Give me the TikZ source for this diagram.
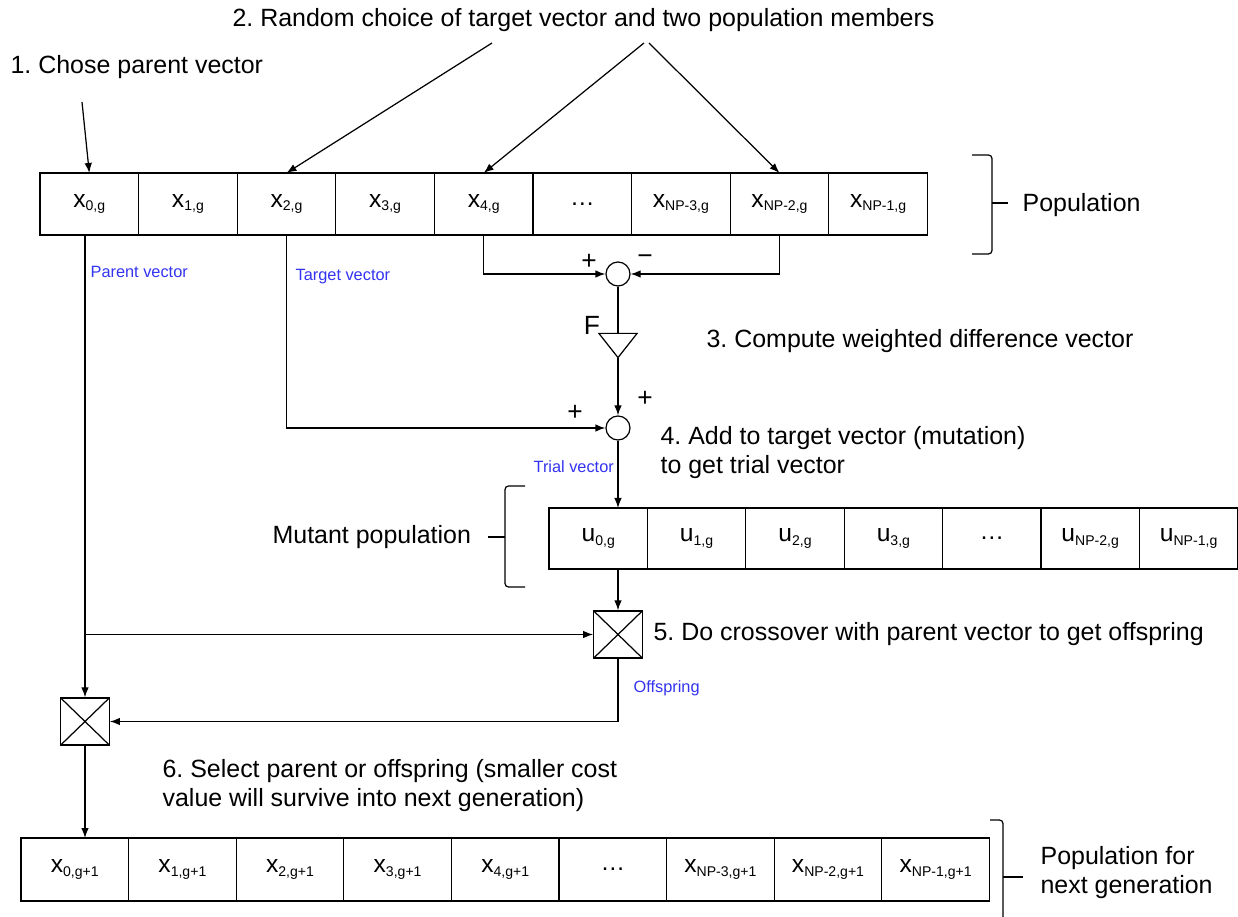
\documentclass[tikz,border=0pt]{standalone}
\usepackage{fontspec}
\setmainfont{Liberation Sans}
\usetikzlibrary{arrows.meta,positioning}
\definecolor{tagblue}{RGB}{51,51,240}
\newcommand{\vsub}[2]{#1\raisebox{-0.3ex}{\fontsize{8}{10}\selectfont #2}}
\frenchspacing

\begin{document}
\begin{tikzpicture}
  [>={Latex[length=2mm,width=1.5mm]}, line width=0.7pt, node distance=0pt,
   popcell/.style={rectangle,draw,outer sep=0pt,inner sep=0pt,minimum width=1.972cm,minimum height=1.24cm,font=\fontsize{14}{16}\selectfont},
   mutcell/.style={popcell,minimum width=1.968cm,minimum height=1.22cm},
   nextcell/.style={popcell,minimum width=2.152cm,minimum height=1.26cm},
   sumpt/.style={circle,draw,inner sep=0pt,minimum size=0.48cm},
   xover/.style={rectangle,draw,inner sep=0pt,minimum width=0.97cm,minimum height=0.94cm,
     path picture={\draw (path picture bounding box.south west) -- (path picture bounding box.north east)
       (path picture bounding box.north west) -- (path picture bounding box.south east);}},
   gain/.style={inner sep=0pt,minimum width=0.74cm,minimum height=0.46cm},
   steptext/.style={inner sep=0pt,anchor=west,align=left,font=\fontsize{14.2}{16.5}\selectfont},
   tag/.style={inner sep=0pt,anchor=west,text=tagblue,font=\fontsize{9.3}{11}\selectfont},
   sign/.style={inner sep=0pt,font=\fontsize{15}{16}\selectfont}]
  \useasboundingbox (0,0) rectangle (24.76,-18.34);
  % population
  \node[popcell] (x0) at (1.786,-4.08) {\vsub{x}{0,g}};
  \node[popcell] (x1) [right=of x0] {\vsub{x}{1,g}};
  \node[popcell] (x2) [right=of x1] {\vsub{x}{2,g}};
  \node[popcell] (x3) [right=of x2] {\vsub{x}{3,g}};
  \node[popcell] (x4) [right=of x3] {\vsub{x}{4,g}};
  \node[popcell] (xdots) [right=of x4] {\dots};
  \node[popcell] (xn3) [right=of xdots] {\vsub{x}{NP-3,g}};
  \node[popcell] (xn2) [right=of xn3] {\vsub{x}{NP-2,g}};
  \node[popcell] (xn1) [right=of xn2] {\vsub{x}{NP-1,g}};
  % mutant population
  \node[mutcell] (u0) at (11.964,-10.77) {\vsub{u}{0,g}};
  \node[mutcell] (u1) [right=of u0] {\vsub{u}{1,g}};
  \node[mutcell] (u2) [right=of u1] {\vsub{u}{2,g}};
  \node[mutcell] (u3) [right=of u2] {\vsub{u}{3,g}};
  \node[mutcell] (udots) [right=of u3] {\dots};
  \node[mutcell] (un2) [right=of udots] {\vsub{u}{NP-2,g}};
  \node[mutcell] (un1) [right=of un2] {\vsub{u}{NP-1,g}};
  % next generation
  \node[nextcell] (n0) at (1.496,-17.39) {\vsub{x}{0,g+1}};
  \node[nextcell] (n1) [right=of n0] {\vsub{x}{1,g+1}};
  \node[nextcell] (n2) [right=of n1] {\vsub{x}{2,g+1}};
  \node[nextcell] (n3) [right=of n2] {\vsub{x}{3,g+1}};
  \node[nextcell] (n4) [right=of n3] {\vsub{x}{4,g+1}};
  \node[nextcell] (ndots) [right=of n4] {\dots};
  \node[nextcell] (nn3) [right=of ndots] {\vsub{x}{NP-3,g+1}};
  \node[nextcell] (nn2) [right=of nn3] {\vsub{x}{NP-2,g+1}};
  \node[nextcell] (nn1) [right=of nn2] {\vsub{x}{NP-1,g+1}};
  % operators
  \node[sumpt] (sum1) at (12.36,-5.48) {};
  \node[gain] (amp) at (12.36,-6.91) {};
  \draw (amp.north west) -- (amp.north east) -- (amp.south) -- cycle;
  \node[sumpt] (sum2) at (12.36,-8.56) {};
  \node[xover] (xover1) at (12.36,-12.69) {};
  \node[xover] (xover2) at (1.70,-14.43) {};
  % step texts
  \node[steptext] (step1) at (0.2,-1.34) {1. Chose parent vector};
  \node[steptext] (step2) at (4.64,-0.40) {2. Random choice of target vector and two population members};
  \node[steptext] (step3) at (14.12,-6.82) {3. Compute weighted difference vector};
  \node[steptext] (step4) at (13.2,-9.05) {4. Add to target vector (mutation)\\to get trial vector};
  \node[steptext] (step5) at (13.06,-12.68) {5. Do crossover with parent vector to get offspring};
  \node[steptext] (step6) at (3.24,-15.72) {6. Select parent or offspring (smaller cost\\value will survive into next generation)};
  \node[steptext] (poplbl) at (20.44,-4.10) {Population};
  \node[steptext] (mutlbl) at (5.44,-10.74) {Mutant population};
  \node[steptext] (nextlbl) at (20.8,-17.45) {Population for\\next generation};
  \node[sign] (plus1) at (11.78,-5.24) {+};
  \node[sign] (minus1) at (12.9,-5.2) {−};
  \node[sign] (plus2) at (12.9,-7.98) {+};
  \node[sign] (plus3) at (11.5,-8.26) {+};
  \node[sign] (flbl) at (11.84,-6.5) {F};
  \node[tag] (tparent) at (1.8,-5.44) {Parent vector};
  \node[tag] (ttarget) at (5.9,-5.54) {Target vector};
  \node[tag] (ttrial) at (10.66,-9.34) {Trial vector};
  \node[tag] (toff) at (12.66,-13.76) {Offspring};
  % braces
  \draw[rounded corners=2pt] (19.44,-3.10) -- (19.84,-3.10) -- (19.84,-5.08) -- (19.44,-5.08);
  \draw (19.84,-4.06) -- (20.16,-4.06);
  \draw[rounded corners=2pt] (10.50,-9.72) -- (10.10,-9.72) -- (10.10,-11.74) -- (10.50,-11.74);
  \draw (10.10,-10.74) -- (9.76,-10.74);
  \draw[rounded corners=2pt] (19.80,-16.40) -- (20.06,-16.40) -- (20.06,-18.6);
  \draw (20.06,-17.54) -- (20.46,-17.54);
  % choice arrows
  \coordinate (s1) at (1.64,-2.04);
  \coordinate (s2) at (9.84,-0.86);
  \coordinate (s3) at (12.88,-0.86);
  \coordinate (s4) at (12.98,-0.86);
  \draw [->] (s1) -- (x0.north);
  \draw [->] (s2) -- (x2.north);
  \draw [->] (s3) -- (x4.north);
  \draw [->] (s4) -- (xn2.north);
  % difference and mutation
  \draw [->] (x4.south) |- (sum1.west);
  \draw [->] (xn2.south) |- (sum1.east);
  \draw (sum1.south) -- (amp.north);
  \draw [->] (amp.south) -- (sum2.north);
  \draw [->] (x2.south) |- (sum2.west);
  \draw [->] (sum2.south) -- (sum2.south |- u0.north);
  % crossover and selection
  \draw [->] (xover1 |- u0.south) -- (xover1.north);
  \draw [->] (xover2 |- x0.south) -- (xover2.north);
  \draw [->] (xover2 |- xover1.west) -- (xover1.west);
  \draw [->] (xover1.south) |- (xover2.east);
  \draw [->] (xover2.south) -- (xover2 |- n0.north);
\end{tikzpicture}
\end{document}
